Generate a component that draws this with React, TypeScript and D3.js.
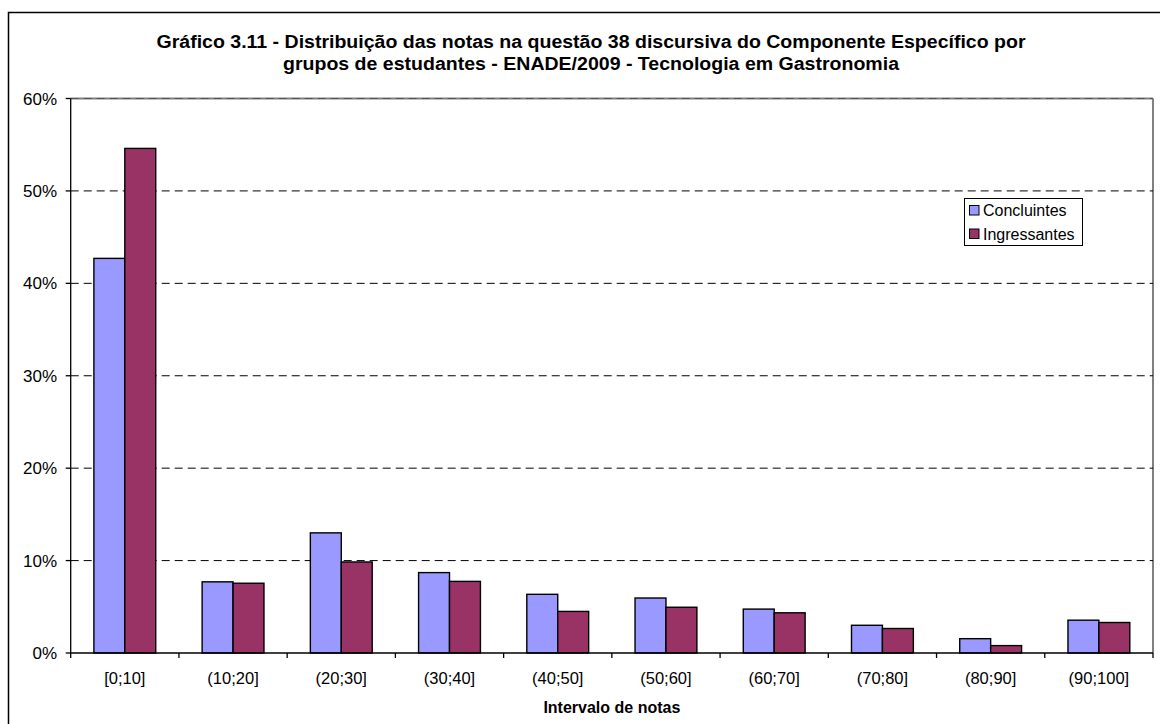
import React from "react";
import * as d3 from "d3";

const categories = ["[0;10]", "(10;20]", "(20;30]", "(30;40]", "(40;50]", "(50;60]", "(60;70]", "(70;80]", "(80;90]", "(90;100]"];
const concluintes = [42.7, 7.7, 13.0, 8.7, 6.35, 5.95, 4.75, 3.0, 1.55, 3.55];
const ingressantes = [54.6, 7.55, 9.85, 7.75, 4.5, 4.95, 4.35, 2.65, 0.8, 3.3];
const seriesNames = ["Concluintes", "Ingressantes"];
const seriesColors = ["#9999FF", "#993366"];
const yTicks = [0, 10, 20, 30, 40, 50, 60];
const titleLines = [
  "Gráfico 3.11 - Distribuição das notas na questão 38 discursiva do Componente Específico por",
  "grupos de estudantes - ENADE/2009 - Tecnologia em Gastronomia",
];
const xTitle = "Intervalo de notas";

const W = 1160;
const H = 724;
const plot = { left: 70.7, right: 1153, top: 98.5, bottom: 653 };
const FONT = "'Liberation Sans', Arial, sans-serif";

export default function App() {
  const x = d3.scaleBand<string>().domain(categories).range([plot.left, plot.right]).paddingInner(0).paddingOuter(0);
  const inner = d3.scaleBand<string>().domain(seriesNames).range([0, x.bandwidth()]).paddingInner(0).paddingOuter(0.75);
  const y = d3.scaleLinear().domain([0, 60]).range([plot.bottom, plot.top]);
  const series = [concluintes, ingressantes];
  const titleWidths = [869, 616];

  return (
    <svg width={W} height={H} style={{ position: "absolute", left: 0, top: 0, background: "#fff" }} fontFamily={FONT}>
      <rect x={8.5} y={12.5} width={1200} height={760} fill="#fff" stroke="#000" strokeWidth={1.5} />
      {titleLines.map((t, i) => (
        <text
          key={i}
          x={591}
          y={48 + i * 21.5}
          textAnchor="middle"
          fontWeight="bold"
          fontSize={18}
          textLength={titleWidths[i]}
          lengthAdjust="spacingAndGlyphs"
          fill="#000"
        >
          {t}
        </text>
      ))}
      {/* plot border */}
      <line x1={plot.left} x2={plot.right} y1={plot.top} y2={plot.top} stroke="#808080" strokeWidth={2} />
      <line x1={plot.right} x2={plot.right} y1={plot.top} y2={plot.bottom} stroke="#808080" strokeWidth={2} />
      {/* gridlines */}
      {yTicks.slice(1).map((t) => (
        <line key={t} x1={plot.left} x2={plot.right} y1={y(t)} y2={y(t)} stroke="#000" strokeOpacity={t === 60 ? 0.35 : 1} strokeWidth={1} strokeDasharray="8,5" />
      ))}
      {/* bars */}
      {series.map((vals, si) =>
        vals.map((v, ci) => (
          <rect
            key={`${si}-${ci}`}
            x={(x(categories[ci]) as number) + (inner(seriesNames[si]) as number)}
            y={y(v)}
            width={inner.bandwidth()}
            height={plot.bottom - y(v)}
            fill={seriesColors[si]}
            stroke="#000"
            strokeWidth={1.4}
          />
        ))
      )}
      {/* axes */}
      <line x1={plot.left} x2={plot.left} y1={plot.top} y2={plot.bottom} stroke="#000" strokeWidth={1.3} />
      <line x1={plot.left} x2={plot.right} y1={plot.bottom} y2={plot.bottom} stroke="#000" strokeWidth={1.3} />
      {yTicks.map((t) => (
        <g key={t}>
          <line x1={plot.left - 5} x2={plot.left} y1={y(t)} y2={y(t)} stroke="#000" strokeWidth={1.3} />
          <text x={57} y={y(t) + 6} textAnchor="end" fontSize={17} fill="#000">
            {t}%
          </text>
        </g>
      ))}
      {categories.map((c) => (
        <g key={c}>
          <line x1={x(c) as number} x2={x(c) as number} y1={plot.bottom} y2={plot.bottom + 5} stroke="#000" strokeWidth={1.3} />
          <text x={(x(c) as number) + x.bandwidth() / 2} y={684} textAnchor="middle" fontSize={16.5} fill="#000">
            {c}
          </text>
        </g>
      ))}
      <line x1={plot.right} x2={plot.right} y1={plot.bottom} y2={plot.bottom + 5} stroke="#000" strokeWidth={1.3} />
      <text x={(plot.left + plot.right) / 2} y={713} textAnchor="middle" fontWeight="bold" fontSize={16} fill="#000">
        {xTitle}
      </text>
      {/* legend */}
      <g>
        <rect x={964.5} y={198.5} width={118} height={47} fill="#fff" stroke="#000" strokeWidth={1} />
        {seriesNames.map((s, i) => (
          <g key={s}>
            <rect x={969.5} y={205.5 + i * 23.5} width={9.5} height={9.5} fill={seriesColors[i]} stroke="#000" strokeWidth={1} />
            <text x={983} y={216 + i * 23.5} fontSize={16} fill="#000">
              {s}
            </text>
          </g>
        ))}
      </g>
    </svg>
  );
}
